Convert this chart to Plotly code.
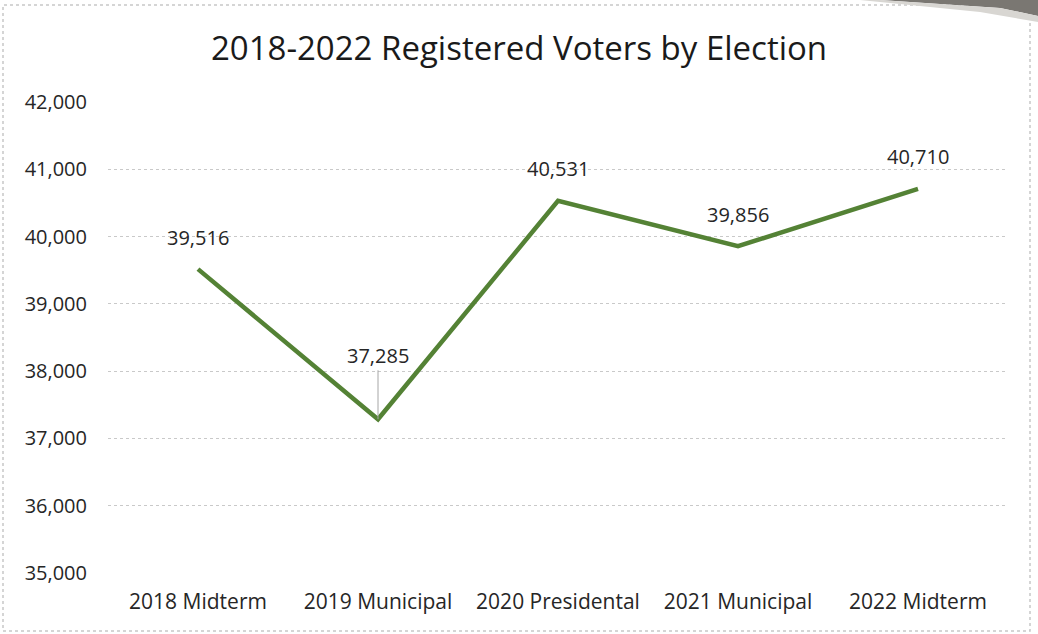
import plotly.graph_objects as go

# Registered voter counts per election
elections = ["2018 Midterm", "2019 Municipal", "2020 Presidental", "2021 Municipal", "2022 Midterm"]
voters = [39516, 37285, 40531, 39856, 40710]
y_ticks = [35000, 36000, 37000, 38000, 39000, 40000, 41000, 42000]
y_tick_text = ["35,000", "36,000", "37,000", "38,000", "39,000", "40,000", "41,000", "42,000"]

W, H = 1038, 634
L, R, T, B = 108, 30, 102, 61
PW, PH = W - L - R, H - T - B

def px_x(x):
    return (x - L) / PW

def px_y(y):
    return (H - B - y) / PH

FONT = "Open Sans, Noto Sans, sans-serif"
GREEN = "#548235"
TEXT = "#262626"

fig = go.Figure()
fig.add_trace(go.Scatter(
    x=elections, y=voters, mode="lines",
    line=dict(color=GREEN, width=4.5),
    hoverinfo="x+y", showlegend=False,
))

annotations = []
for name, v in zip(elections, voters):
    if name == "2019 Municipal":
        annotations.append(dict(
            x=name, y=v, xref="x", yref="y", text=f"{v:,}",
            showarrow=True, arrowhead=0, arrowwidth=1, arrowcolor="#a6a6a6",
            ax=0, ay=-64, font=dict(family=FONT, size=20, color=TEXT),
        ))
    else:
        annotations.append(dict(
            x=name, y=v, xref="x", yref="y", text=f"{v:,}",
            showarrow=False, yshift=32,
            font=dict(family=FONT, size=20, color=TEXT),
        ))

shapes = [
    # outer chart frame
    dict(type="rect", xref="paper", yref="paper",
         x0=px_x(3), x1=px_x(1030), y0=px_y(631), y1=px_y(5),
         line=dict(color="#c8c8c8", width=1.5, dash="dot"), fillcolor="rgba(0,0,0,0)", layer="below"),
    # curled corner shading along the top right
    dict(type="path", xref="paper", yref="paper",
         path=(f"M {px_x(880)},{px_y(0)} L {px_x(1038)},{px_y(0)} L {px_x(1038)},{px_y(16)} "
               f"L {px_x(1000)},{px_y(8)} Z"),
         fillcolor="#7a7772", line=dict(width=0), layer="above"),
    dict(type="path", xref="paper", yref="paper",
         path=(f"M {px_x(860)},{px_y(0)} L {px_x(880)},{px_y(0)} L {px_x(1000)},{px_y(8)} "
               f"L {px_x(1038)},{px_y(16)} L {px_x(1038)},{px_y(22)} L {px_x(980)},{px_y(12)} Z"),
         fillcolor="#d8d6d2", line=dict(width=0), layer="above"),
]

fig.update_layout(
    width=W, height=H,
    margin=dict(l=L, r=R, t=T, b=B),
    paper_bgcolor="white", plot_bgcolor="white",
    title=dict(text="2018-2022 Registered Voters by Election", x=0.5, xanchor="center",
               y=1 - 48 / H, yanchor="middle",
               font=dict(family=FONT, size=33, color="#1a1a1a")),
    xaxis=dict(
        type="category", showgrid=False, zeroline=False, showline=False,
        ticks="", tickfont=dict(family=FONT, size=21, color=TEXT),
        ticklabelstandoff=14, range=[-0.5, 4.5], fixedrange=True,
    ),
    yaxis=dict(
        range=[35000, 42000], tickvals=y_ticks, ticktext=y_tick_text,
        showgrid=True, gridcolor="#c9c9c9", griddash="dot", gridwidth=1,
        zeroline=False, showline=False, ticks="", ticklabelstandoff=20,
        tickfont=dict(family=FONT, size=20, color=TEXT),
    ),
    annotations=annotations,
    shapes=shapes,
)

fig.write_html("out.html")
